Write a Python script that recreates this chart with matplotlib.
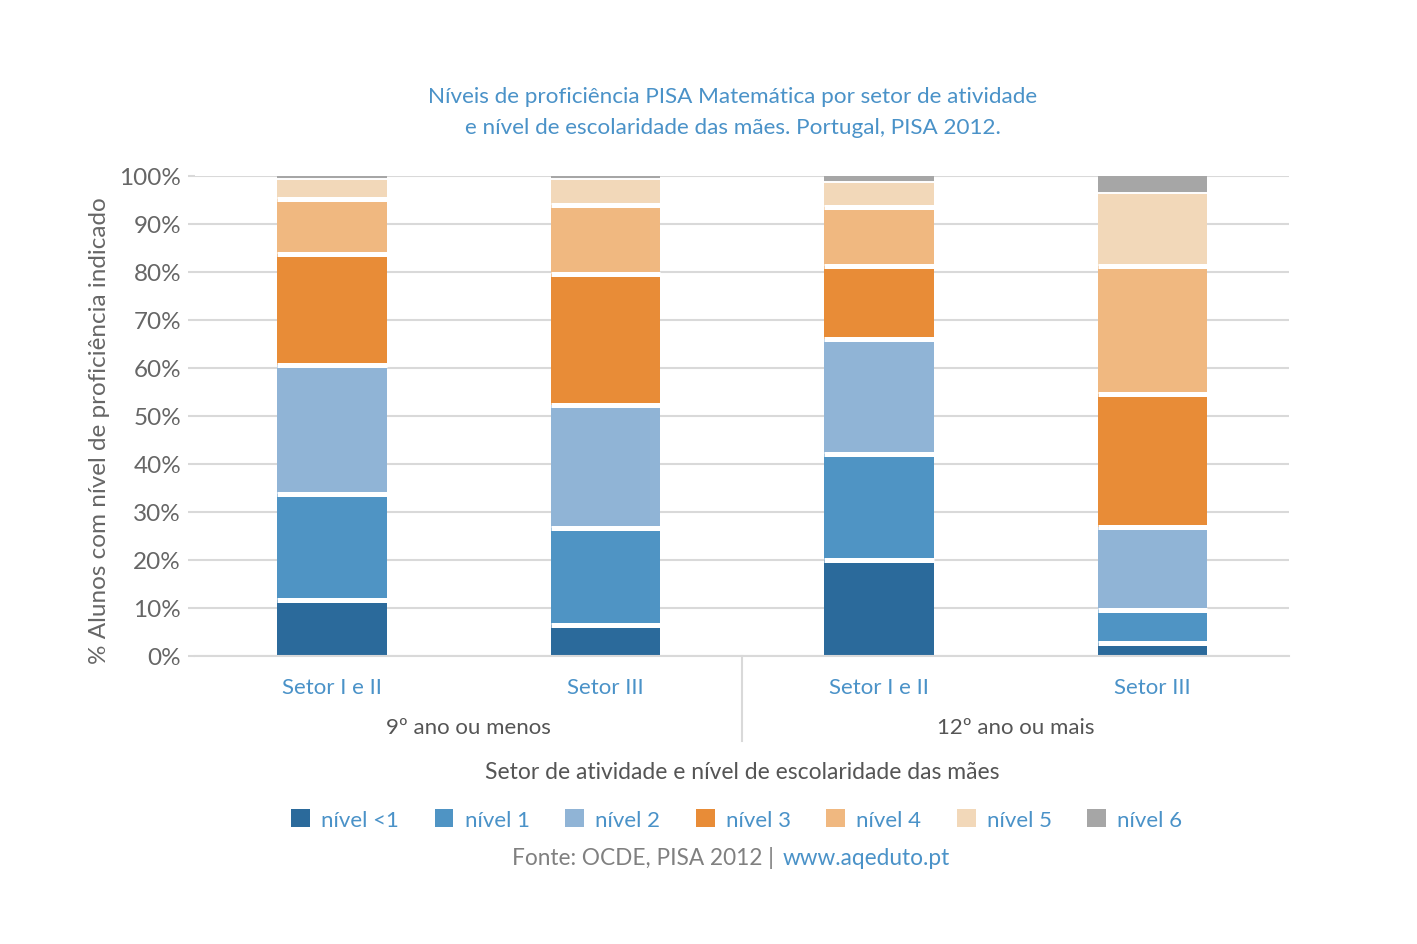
import numpy as np
import matplotlib
matplotlib.use("Agg")
from matplotlib import pyplot as plt
from matplotlib.patches import Patch

categories = ["Setor I e II", "Setor III", "Setor I e II", "Setor III"]
groups = ["9º ano ou menos", "12º ano ou mais"]
levels = ["nível <1", "nível 1", "nível 2", "nível 3", "nível 4", "nível 5", "nível 6"]

# % of students per level, one list per bar
bar1 = [11.6, 22.1, 27.0, 23.0, 11.6, 4.1, 0.6]
bar2 = [6.4, 20.2, 25.6, 27.3, 14.5, 5.4, 0.6]
bar3 = [20.0, 22.1, 24.0, 15.1, 12.3, 5.2, 1.3]
bar4 = [2.6, 6.9, 17.3, 27.8, 26.6, 15.2, 3.6]

colors = ["#2b6a9b", "#4f94c4", "#90b4d6", "#e88c37", "#f0b880", "#f2d8b9", "#a6a6a6"]
blue_txt = "#4a92c8"
gray_txt = "#666666"
grid_c = "#d9d9d9"

plt.rcParams['font.family'] = ['Lato', 'DejaVu Sans']

data = np.array([bar1, bar2, bar3, bar4]).T  # levels x bars
x = np.arange(len(categories))
width = 0.4

fig = plt.figure(figsize=(14.17, 9.45), dpi=100)
ax = fig.add_axes([0.1376, 0.3048, 0.7724, 0.5079])

bottom = np.zeros(len(categories))
for i, lvl in enumerate(levels):
    ax.bar(x, data[i], width, bottom=bottom, color=colors[i], linewidth=0, zorder=2)
    bottom = bottom + data[i]

# white gaps between segments
cum = np.cumsum(data, axis=0)
for i in range(len(levels) - 1):
    lw = 3.6 if i < len(levels) - 2 else 1.4
    ax.hlines(cum[i], x - width / 2, x + width / 2, colors="white", linewidth=lw, zorder=3)

ax.set_xlim(-0.5, 3.5)
ax.set_ylim(0, 100)
ax.set_yticks(np.arange(0, 101, 10))
ax.set_yticklabels([f"{v}%" for v in range(0, 101, 10)], fontsize=17.5, color=gray_txt)
ax.yaxis.grid(True, color=grid_c, linewidth=1.5, zorder=0)
ax.set_axisbelow(True)
ax.tick_params(axis='y', length=5, color=grid_c, width=1.5, pad=5)
for s in ["top", "right", "left"]:
    ax.spines[s].set_visible(False)
ax.spines["bottom"].set_color(grid_c)
ax.spines["bottom"].set_linewidth(1.5)

ax.set_xticks(x)
ax.set_xticklabels(categories, fontsize=16, color=blue_txt)
ax.tick_params(axis='x', length=0, pad=15)

# group separator and labels
ax.plot([1.5, 1.5], [0, -17.8], color=grid_c, linewidth=1.5, clip_on=False)
for j, g in enumerate(groups):
    ax.text(0.5 + 2 * j, -14.8, g, ha='center', va='center', fontsize=16, color="#555555")

ax.set_ylabel("% Alunos com nível de proficiência indicado", fontsize=17.5, color=gray_txt)
ax.yaxis.set_label_coords(-0.078, 0.471)

fig.text(0.5235, 0.183, "Setor de atividade e nível de escolaridade das mães", ha='center', va='center',
         fontsize=16.5, color="#555555")

fig.text(0.517, 0.881, "Níveis de proficiência PISA Matemática por setor de atividade\n"
         "e nível de escolaridade das mães. Portugal, PISA 2012.",
         ha='center', va='center', fontsize=16.2, color=blue_txt, linespacing=1.65)

handles = [Patch(facecolor=c, edgecolor='none') for c in colors]
leg = fig.legend(handles, levels, loc='center', bbox_to_anchor=(0.52, 0.132), ncol=7, frameon=False,
                 fontsize=16, handlelength=0.85, handleheight=0.85, columnspacing=1.6, handletextpad=0.5)
for t in leg.get_texts():
    t.set_color(blue_txt)

fig.text(0.5505, 0.092, "Fonte: OCDE, PISA 2012 | ", ha='right', va='center', fontsize=16.3, color="#808080")
fig.text(0.5525, 0.092, "www.aqeduto.pt", ha='left', va='center', fontsize=16.3, color=blue_txt)

fig.savefig("out.png", dpi=100)
